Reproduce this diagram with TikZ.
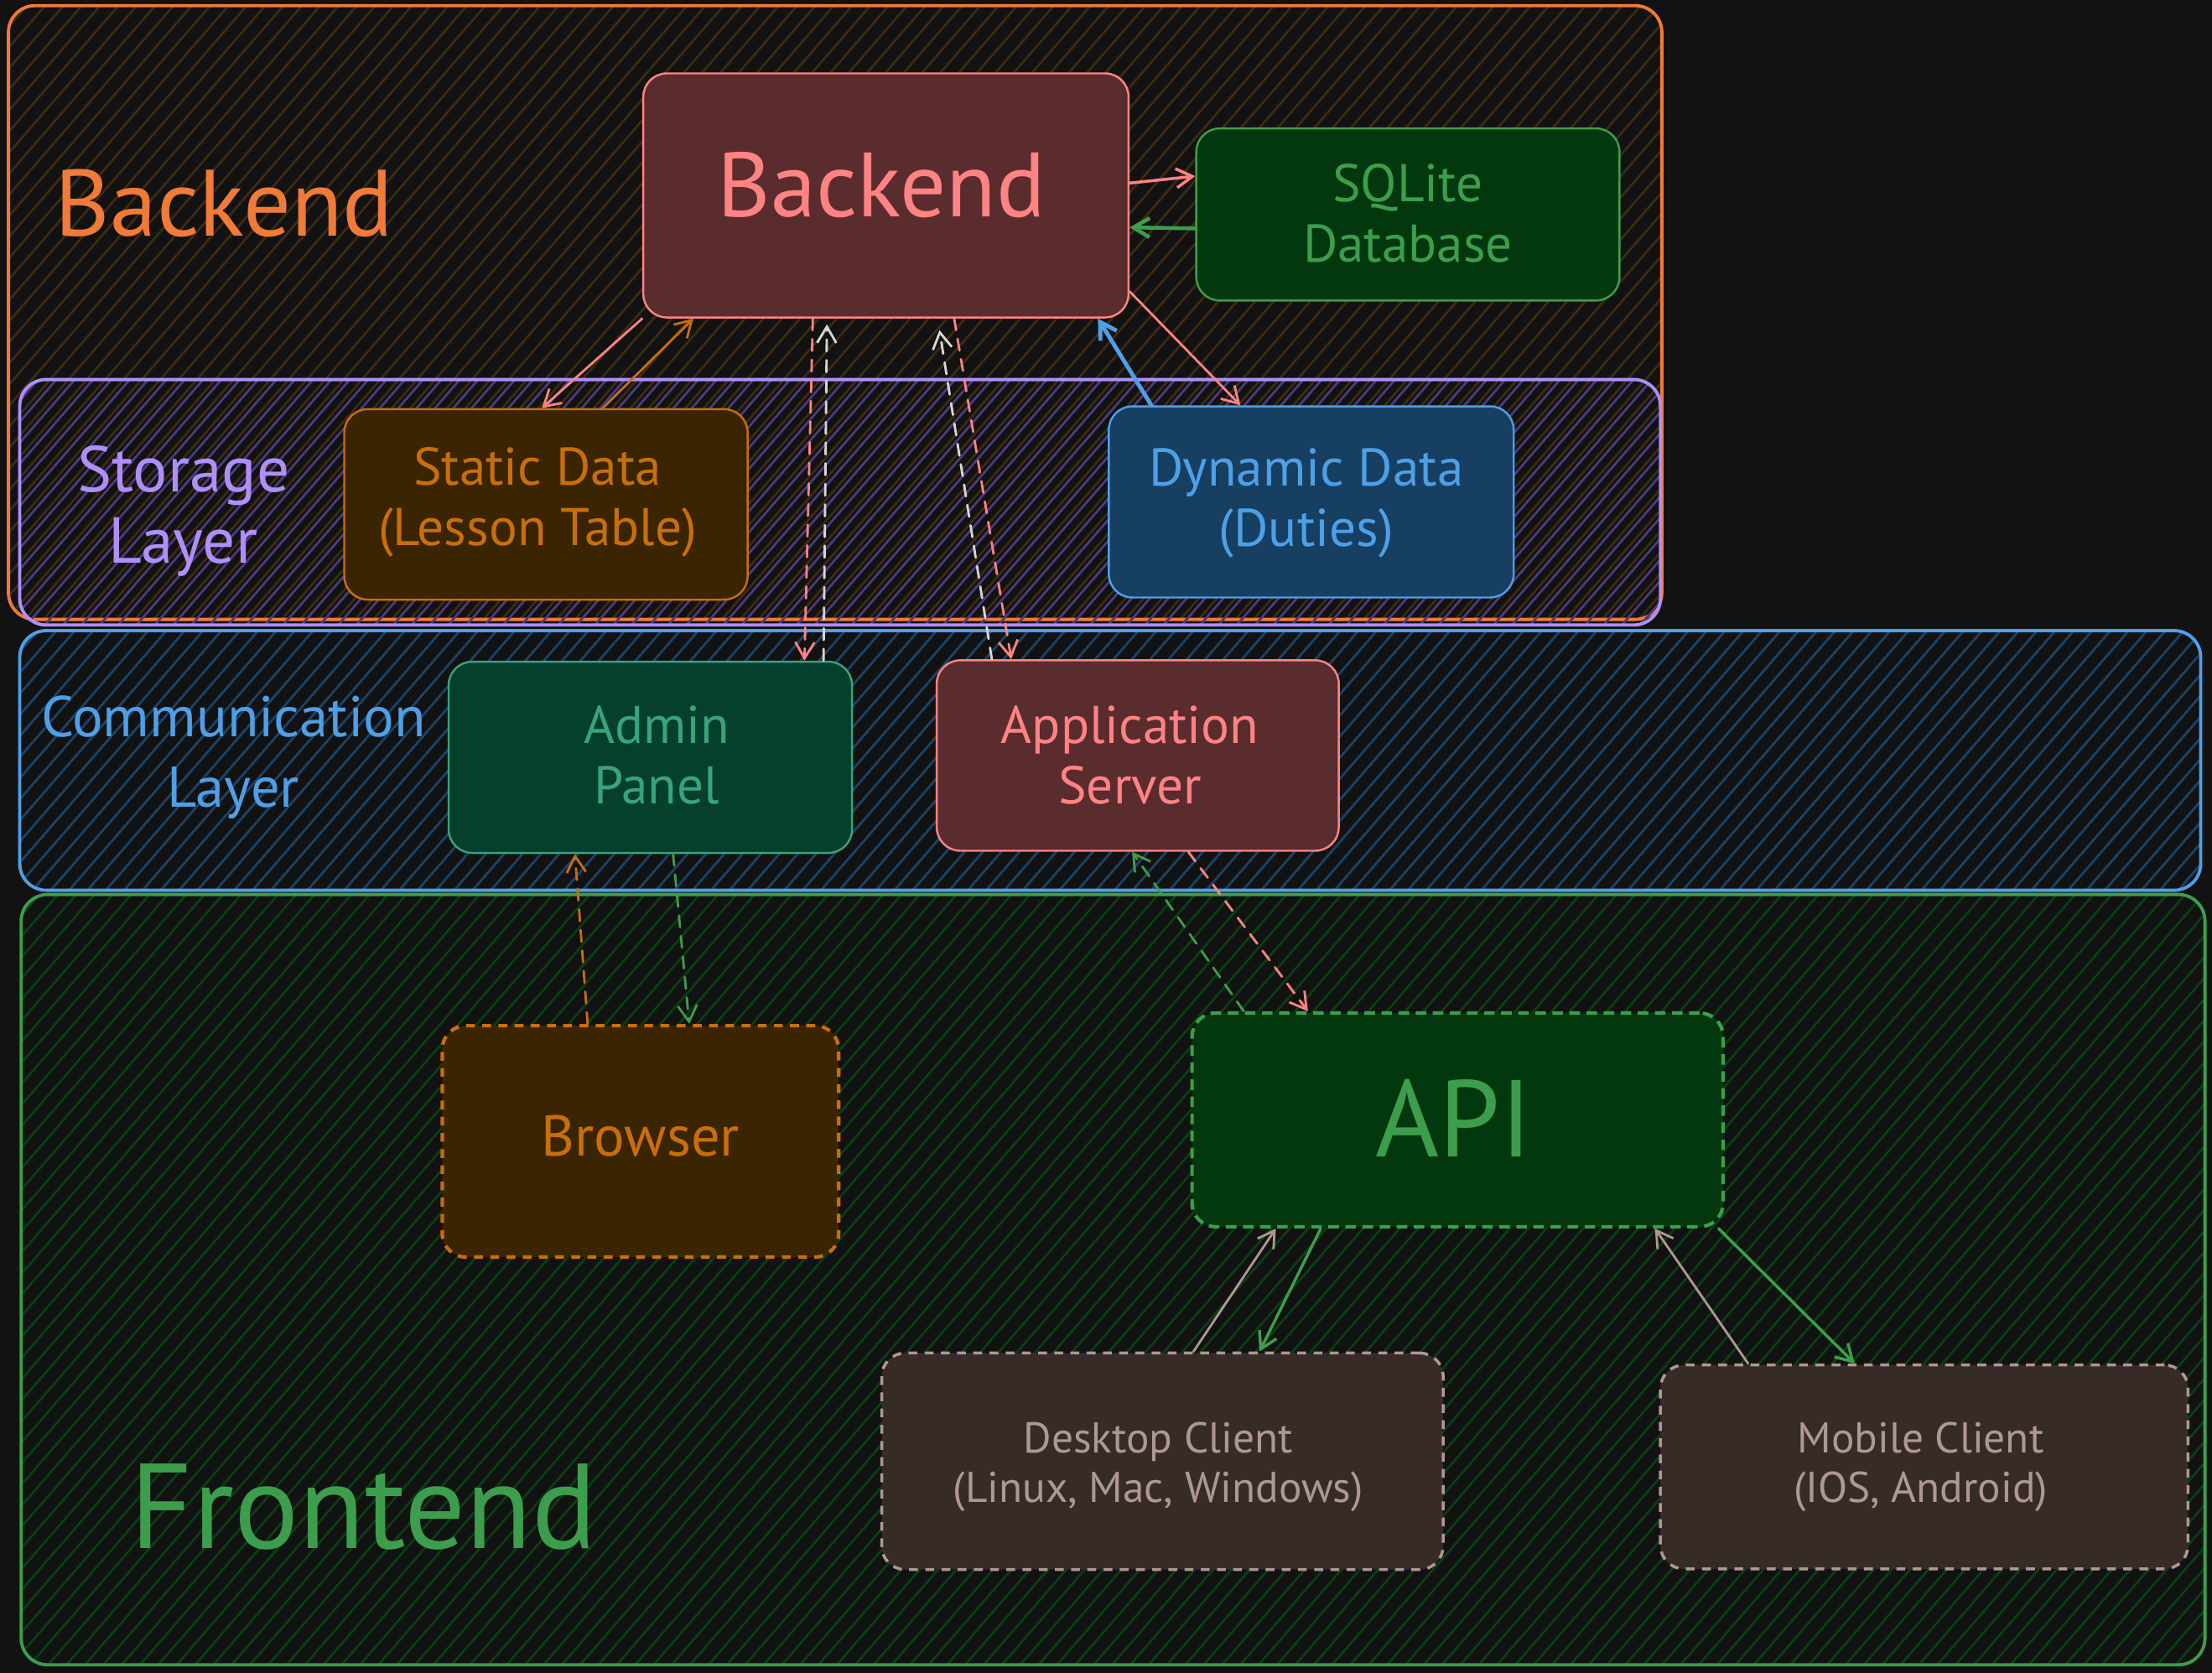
\documentclass[tikz,border=0pt]{standalone}
\usepackage{fontspec}
\setmainfont{PT Sans}
\usetikzlibrary{arrows.meta,fit,calc}

\definecolor{bg}{HTML}{121212}
\definecolor{cOrange}{HTML}{F07A38}
\definecolor{cSalmon}{HTML}{FF8383}
\definecolor{fMaroon}{HTML}{5A2C2E}
\definecolor{cGreen}{HTML}{3C9E4C}
\definecolor{fGreen}{HTML}{03380F}
\definecolor{cTeal}{HTML}{38A37D}
\definecolor{fTeal}{HTML}{053F2D}
\definecolor{cPurple}{HTML}{AE8FFA}
\definecolor{cBlue}{HTML}{4E9FE6}
\definecolor{fBlue}{HTML}{163F62}
\definecolor{cBrown}{HTML}{C86E0C}
\definecolor{fBrown}{HTML}{3A2500}
\definecolor{cBeige}{HTML}{AE9890}
\definecolor{fBeige}{HTML}{362B27}
\definecolor{cWhite}{HTML}{D6D6D6}
\definecolor{hOrange}{HTML}{3D2A12}
\definecolor{hPurple}{HTML}{4A3A7E}
\definecolor{hBlue}{HTML}{1C4264}
\definecolor{hGreen}{HTML}{0B3D13}

\newcommand\fM{\fontsize{18}{20.5}\selectfont}
\newcommand\fLay{\fontsize{19.5}{23.9}\selectfont}
\newcommand\fSm{\fontsize{14.6}{16.8}\selectfont}

% hatch: #1 colour, #2 x1, #3 y1, #4 x2, #5 y2
\newcommand\myhatch[5]{%
  \begin{scope}
    \clip[rounded corners=9pt] (#2,#3) rectangle (#4,#5);
    \pgfmathsetmacro\hh{#5-#3}
    \pgfmathsetmacro\ww{\hh/1.15}
    \pgfmathsetmacro\xs{#2-\ww}
    \pgfmathtruncatemacro\nn{(#4-#2+\ww)/13+1}
    \foreach \k in {0,...,\nn}{
      \draw[#1, line width=0.8pt] ({\xs+13*\k},#5) -- ++(\ww,-\hh);
    }
  \end{scope}}

\begin{document}
\begin{tikzpicture}[x=0.016824cm,y=-0.016824cm,
  container/.style={draw, line width=1.1pt, rounded corners=9pt, inner sep=0pt},
  box/.style={draw, line width=0.7pt, rounded corners=8pt, inner sep=0pt},
  dbox/.style={box, line width=1.2pt, dash pattern=on 3pt off 2.5pt},
  lbl/.style={align=center, font=\fM, inner sep=0pt},
  arr/.style={line width=0.8pt, line cap=round, -{Straight Barb[length=5.5pt,width=6.5pt]}},
  darr/.style={arr, dash pattern=on 4pt off 3pt}]

\fill[bg] (0,0) rectangle (1568,1185.8);
\useasboundingbox (0,0) rectangle (1568,1185.8);

% containers
\myhatch{hOrange}{6}{4}{1178}{439}
\node[container, draw=cOrange, fit={(6,4) (1178,439)}] (gBackend) {};
\myhatch{hPurple}{14}{269}{1177}{443}
\node[container, draw=cPurple, fit={(14,269) (1177,443)}] (gStorage) {};
\myhatch{hBlue}{14}{447}{1560}{631}
\node[container, draw=cBlue, fit={(14,447) (1560,631)}] (gComm) {};
\myhatch{hGreen}{15}{634}{1563}{1180}
\node[container, draw=cGreen, fit={(15,634) (1563,1180)}] (gFront) {};

% layer labels
\node[text=cOrange, font=\fontsize{32}{38}\selectfont] (tBackend) at (159,144) {Backend};
\node[text=cPurple, font=\fontsize{22}{24.2}\selectfont, align=center] (tStorage) at (130,362) {Storage\\Layer};
\node[text=cBlue, font=\fLay, align=center] (tComm) at (165.5,537) {Communication\\Layer};
\node[text=cGreen, font=\fontsize{41}{46}\selectfont] (tFront) at (258,1068) {Frontend};

% boxes
\node[box, draw=cSalmon, fill=fMaroon, fit={(456,52) (800,225)}] (backend) {};
\node[box, draw=cGreen, fill=fGreen, fit={(848,91) (1148,213)}] (sqlite) {};
\node[box, draw=cBrown, fill=fBrown, fit={(244,290) (530,425)}] (static) {};
\node[box, draw=cBlue, fill=fBlue, fit={(786,288) (1073,423.5)}] (dynamic) {};
\node[box, draw=cTeal, fill=fTeal, fit={(318,469) (604,604.5)}] (admin) {};
\node[box, draw=cSalmon, fill=fMaroon, fit={(664,468) (949,603)}] (appserver) {};
\node[dbox, draw=cBrown, fill=fBrown, fit={(313.5,727) (594.5,891)}] (browser) {};
\node[dbox, draw=cGreen, fill=fGreen, dash pattern=on 3.6pt off 2.2pt, fit={(845,718) (1221.5,869.5)}] (api) {};
\node[dbox, draw=cBeige, fill=fBeige, line width=1pt, fit={(625,959) (1023,1112.5)}] (desktop) {};
\node[dbox, draw=cBeige, fill=fBeige, line width=1pt, fit={(1177,967.5) (1551,1112)}] (mobile) {};

% box texts
\node[lbl, text=cSalmon, font=\fontsize{31}{36}\selectfont] (backendT) at (625,131) {Backend};
\node[lbl, text=cGreen] (sqliteT) at (998,151) {SQLite\\Database};
\node[lbl, text=cBrown] (staticT) at (381,356) {Static Data\\(Lesson Table)};
\node[lbl, text=cBlue] (dynamicT) at (926,356.5) {Dynamic Data\\(Duties)};
\node[lbl, text=cTeal] (adminT) at (465.5,535) {Admin\\Panel};
\node[lbl, text=cSalmon] (appserverT) at (801,535) {Application\\Server};
\node[lbl, text=cBrown, font=\fontsize{19.5}{22}\selectfont] (browserT) at (454,805) {Browser};
\node[lbl, text=cGreen, font=\fontsize{37}{42}\selectfont] (apiT) at (1030.5,792.5) {API};
\node[lbl, text=cBeige, font=\fSm] (desktopT) at (821,1040) {Desktop Client\\(Linux, Mac, Windows)};
\node[lbl, text=cBeige, font=\fSm] (mobileT) at (1361.5,1040) {Mobile Client\\(IOS, Android)};

% connectors
\draw[arr,cSalmon] (backend.south west) -- ($(static.north west)!.49!(static.north east)$);
\draw[arr,cBrown] ($(static.north west)!.64!(static.north east)$) -- ($(backend.south west)!.105!(backend.south east)$);
\draw[arr,cSalmon,line width=1pt] ($(backend.north east)!.45!(backend.south east)$) -- ($(sqlite.north west)!.28!(sqlite.south west)$);
\draw[arr,cGreen,line width=1.3pt] ($(sqlite.north west)!.58!(sqlite.south west)$) -- ($(backend.north east)!.63!(backend.south east)$);
\draw[arr,cSalmon] ($(backend.north east)!.89!(backend.south east)$) -- ($(dynamic.north west)!.326!(dynamic.north east)$);
\draw[arr,cBlue,line width=1.4pt] ($(dynamic.north west)!.107!(dynamic.north east)$) -- ($(backend.south west)!.935!(backend.south east)$);
\draw[darr,cSalmon] ($(backend.south west)!.35!(backend.south east)$) -- ($(admin.north west)!.88!(admin.north east)$);
\draw[darr,cWhite,shorten >=2pt] ($(admin.north west)!.927!(admin.north east)$) -- ($(backend.south west)!.379!(backend.south east)$);
\draw[darr,cSalmon] ($(backend.south west)!.64!(backend.south east)$) -- ($(appserver.north west)!.187!(appserver.north east)$);
\draw[darr,cWhite,shorten >=4pt] ($(appserver.north west)!.139!(appserver.north east)$) -- ($(backend.south west)!.606!(backend.south east)$);
\draw[darr,cBrown] ($(browser.north west)!.368!(browser.north east)$) -- ($(admin.south west)!.314!(admin.south east)$);
\draw[darr,cGreen] ($(admin.south west)!.556!(admin.south east)$) -- ($(browser.north west)!.622!(browser.north east)$);
\draw[darr,cGreen] ($(api.north west)!.10!(api.north east)$) -- ($(appserver.south west)!.486!(appserver.south east)$);
\draw[darr,cSalmon] ($(appserver.south west)!.625!(appserver.south east)$) -- ($(api.north west)!.22!(api.north east)$);
\draw[arr,cBeige] ($(desktop.north west)!.555!(desktop.north east)$) -- ($(api.south west)!.16!(api.south east)$);
\draw[arr,cGreen,line width=1pt] ($(api.south west)!.244!(api.south east)$) -- ($(desktop.north west)!.672!(desktop.north east)$);
\draw[arr,cBeige] ($(mobile.north west)!.168!(mobile.north east)$) -- ($(api.south west)!.869!(api.south east)$);
\draw[arr,cGreen,line width=1pt] ($(api.south west)!.988!(api.south east)$) -- ($(mobile.north west)!.369!(mobile.north east)$);
\end{tikzpicture}
\end{document}
